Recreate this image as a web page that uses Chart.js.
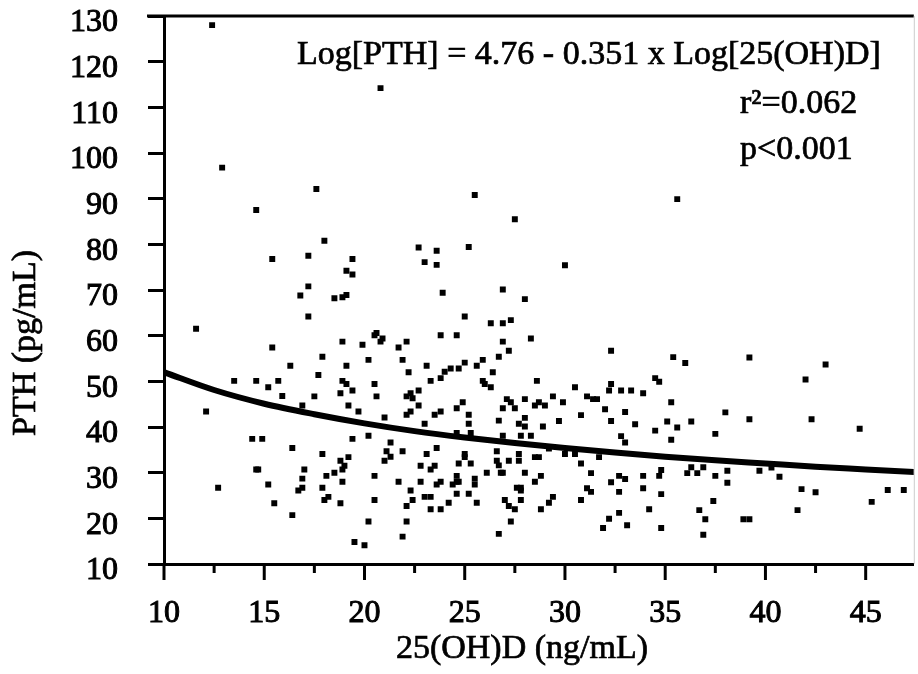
<!DOCTYPE html>
<html lang="en">
<head>
<meta charset="UTF-8">
<title>PTH vs 25(OH)D</title>
<script src="https://cdn.jsdelivr.net/npm/chart.js"></script>
<style>
  html, body { margin: 0; padding: 0; background: #fff; }
  #wrap { width: 918px; height: 674px; }
</style>
</head>
<body>
<div id="wrap"><canvas id="pthChart"></canvas></div>
<script>
// 25(OH)D (ng/mL) of each subject
const vitD = [
  12.4, 20.8, 12.9, 17.6, 14.6, 18.0, 15.4, 17.2, 19.4, 19.1,
  19.4, 17.2, 16.8, 18.5, 18.9, 19.1, 17.2, 22.7, 23.0, 23.6,
  23.6, 23.9, 11.6, 23.8, 24.6, 20.5, 20.6, 25.5, 35.6, 27.5,
  25.2, 30.0, 26.9, 28.0, 25.0, 26.3, 26.9, 27.3, 28.3,
  15.4, 13.5, 14.6, 15.7, 15.2, 15.9, 12.1, 14.4, 14.9, 14.6, 14.7, 15.2, 12.7, 15.5,
  20.8, 20.9, 18.9, 19.9, 21.7, 22.1, 17.9, 16.3, 19.1, 20.2,
  21.9, 17.7, 22.2, 18.9, 19.1, 19.4, 18.8, 20.5, 17.5, 20.6,
  22.1, 22.3, 22.4, 16.9, 19.2, 19.7, 21.0, 22.1, 22.3, 19.4,
  20.2, 16.4, 17.9, 19.2, 18.8, 21.3, 21.1, 21.3, 21.0, 21.9,
  17.0, 19.0, 18.9, 16.9, 18.1, 18.5, 18.9, 20.5, 16.7, 16.9,
  17.9, 18.0, 18.2, 18.8, 21.7, 22.3, 20.5, 22.1, 16.4, 20.2,
  22.1, 21.9, 19.5, 20.0, 22.4,
  26.9, 27.2, 26.7, 23.1, 25.0, 25.9, 25.6, 24.3, 24.0, 24.7,
  26.4, 23.3, 23.8, 25.9, 26.0, 26.3, 28.6, 22.7, 22.7, 24.9,
  24.6, 23.5, 23.8, 25.2, 25.2, 23.0, 27.1, 27.3, 27.5, 28.0,
  26.9, 28.5, 28.7, 26.7, 27.7, 28.0, 28.0, 28.9, 24.6, 25.3,
  26.9, 27.8, 28.3, 23.6, 23.1, 25.0, 25.0, 26.6, 26.6, 26.7,
  26.8, 26.9, 27.2, 27.7, 27.7, 28.5, 28.7, 22.8, 23.3, 23.5,
  24.7, 25.3, 26.1, 24.6, 24.6, 24.4, 24.7, 25.5, 25.5, 23.8,
  23.6, 22.8, 28.0, 28.8, 28.5, 27.6, 27.8, 27.8, 27.8, 23.0,
  23.3, 24.6, 25.2, 24.2, 25.6, 23.3, 23.8, 27.0, 27.2, 27.5,
  28.8, 27.3, 26.7,
  32.3, 35.4, 30.5, 29.4, 29.9, 31.1, 31.4, 31.6, 32.3, 32.2,
  32.8, 33.3, 33.9, 34.5, 34.7, 35.3, 29.0, 32.0, 33.0, 30.8,
  29.7, 32.3, 33.5, 34.5, 35.1, 32.8, 33.0, 35.3, 29.2, 30.0,
  30.5, 31.7, 30.8, 31.3, 32.7, 33.0, 32.3, 33.9, 34.8, 34.7,
  31.1, 31.3, 32.7, 33.9, 34.8, 29.4, 29.2, 30.8, 34.2, 32.7,
  32.2, 31.9, 33.1, 34.8,
  36.0, 39.2, 38.0, 39.2, 36.3, 35.6, 37.5, 36.3, 36.1, 36.6,
  36.9, 37.5, 38.1, 38.1, 39.7, 40.3, 40.7, 41.8, 37.4, 36.7,
  37.0, 38.9, 39.2, 41.6, 36.9,
  43.0, 42.0, 42.3, 44.7, 42.5, 45.3, 46.1, 46.9
];

// PTH (pg/mL), same order as vitD
const pth = [
  128.0, 114.2, 96.8, 92.1, 87.5, 80.8, 76.8, 77.5, 76.8, 74.2,
  73.4, 70.8, 68.8, 68.2, 68.4, 68.9, 64.2, 79.3, 76.1, 78.6,
  75.5, 69.4, 61.5, 60.1, 60.1, 60.1, 60.6, 90.8, 89.9, 85.5,
  79.4, 75.4, 70.1, 68.0, 64.2, 62.7, 62.7, 63.4, 59.4,
  57.4, 50.1, 50.1, 50.1, 48.7, 46.8, 43.4, 37.4, 37.4, 30.7, 30.7, 27.4, 26.7, 23.3,
  58.7, 59.4, 58.7, 58.0, 57.4, 58.7, 55.4, 53.4, 53.4, 54.7,
  54.7, 51.4, 52.0, 50.1, 49.4, 48.0, 47.4, 49.4, 46.7, 46.7,
  46.7, 47.4, 46.3, 44.7, 44.7, 43.4, 42.1, 42.7, 43.4, 37.4,
  38.1, 35.4, 34.1, 33.4, 32.6, 36.6, 34.7, 33.5, 32.6, 34.7,
  30.7, 31.5, 30.7, 28.7, 29.3, 30.0, 28.0, 29.3, 26.1, 26.7,
  26.7, 24.0, 24.7, 23.3, 28.0, 26.1, 24.0, 22.7, 20.7, 19.3,
  19.3, 16.0, 14.8, 14.1, 24.0,
  58.7, 56.7, 55.4, 53.4, 54.1, 54.7, 53.4, 52.8, 52.1, 52.8,
  52.0, 50.1, 50.7, 50.1, 49.4, 48.7, 50.1, 48.0, 44.7, 45.4,
  44.1, 42.7, 43.4, 42.7, 40.7, 40.7, 46.1, 45.4, 44.1, 46.1,
  44.1, 44.7, 45.4, 41.4, 40.7, 42.0, 40.1, 40.1, 38.7, 38.7,
  38.1, 38.1, 38.1, 35.4, 34.1, 34.1, 33.4, 34.7, 32.6, 31.6,
  30.0, 30.0, 32.6, 34.1, 32.6, 33.4, 33.4, 31.5, 30.7, 31.5,
  32.0, 32.0, 30.0, 29.3, 28.0, 27.4, 28.0, 28.7, 27.4, 28.0,
  27.4, 28.0, 30.0, 29.3, 28.0, 26.7, 26.7, 26.1, 24.0, 24.7,
  24.7, 25.4, 25.4, 23.4, 23.4, 22.0, 22.0, 24.0, 22.7, 22.0,
  22.0, 19.3, 16.6,
  56.7, 55.3, 48.7, 46.7, 45.4, 46.7, 46.1, 46.1, 49.4, 48.0,
  48.0, 48.0, 47.4, 50.7, 49.9, 45.4, 44.7, 43.9, 43.3, 42.6,
  41.3, 41.3, 40.6, 39.2, 41.2, 38.0, 36.6, 37.2, 35.3, 34.1,
  34.1, 33.4, 32.0, 29.9, 29.3, 28.6, 27.9, 29.3, 30.6, 29.3,
  26.6, 25.8, 25.8, 26.6, 25.3, 24.7, 23.4, 24.0, 22.0, 21.2,
  19.9, 17.9, 18.5, 17.9,
  54.0, 55.2, 43.2, 41.7, 41.2, 39.9, 38.5, 31.2, 29.9, 29.9,
  31.2, 29.3, 30.4, 27.8, 30.4, 31.1, 29.1, 26.4, 23.8, 21.8,
  19.8, 19.8, 19.8, 21.8, 16.4,
  53.7, 50.4, 41.7, 39.6, 25.7, 23.6, 26.2, 26.2
];

// the drawn regression curve
const fitX = [10, 12.5, 15, 17.5, 20, 22.5, 25, 27.5, 30, 32.5, 35, 37.5, 40, 42.5, 45, 47.5];
const fitY = [52.0, 48.1, 45.1, 42.8, 40.8, 39.1, 37.7, 36.5, 35.4, 34.4, 33.5, 32.7, 32.0, 31.3, 30.7, 30.1];

const equationText = 'Log[PTH] = 4.76 - 0.351 x Log[25(OH)D]';
const r2Text = 'r\u00b2=0.062';
const pText = 'p<0.001';
const xTitle = '25(OH)D (ng/mL)';
const yTitle = 'PTH (pg/mL)';

const FONT = '"Liberation Serif", "Times New Roman", serif';
Chart.defaults.font.family = FONT;
Chart.defaults.color = '#000';

// text a bit heavier, like the scanned figure
function heavyText(ctx, str, x, y) {
  ctx.fillText(str, x, y);
  ctx.strokeText(str, x, y);
}

// frame, x ticks (major + minor), axis titles and the fit text
const extras = {
  id: 'extras',
  afterDraw(chart) {
    const { ctx, chartArea: a, scales: { x } } = chart;
    ctx.save();
    ctx.strokeStyle = '#000';
    ctx.lineWidth = 3;
    ctx.beginPath();
    ctx.moveTo(a.left - 17, a.top);
    ctx.lineTo(a.right, a.top);
    ctx.stroke();

    ctx.strokeStyle = '#ccc';
    ctx.lineWidth = 1;
    ctx.beginPath();
    ctx.moveTo(a.right + 0.5, a.top);
    ctx.lineTo(a.right + 0.5, a.bottom);
    ctx.stroke();

    ctx.strokeStyle = '#000';
    ctx.lineWidth = 3;
    for (let v = 10; v <= x.max; v += 2.5) {
      const px = x.getPixelForValue(v);
      const major = v % 5 === 0;
      ctx.beginPath();
      ctx.moveTo(px, a.bottom - 1);
      ctx.lineTo(px, a.bottom + (major ? 16 : 9));
      ctx.stroke();
    }

    ctx.fillStyle = '#000';
    ctx.strokeStyle = '#000';
    ctx.lineWidth = 0.7;
    ctx.textBaseline = 'alphabetic';
    ctx.font = '34px ' + FONT;
    ctx.textAlign = 'center';
    heavyText(ctx, xTitle, 522, 658);

    ctx.save();
    ctx.translate(35, 343);
    ctx.rotate(-Math.PI / 2);
    heavyText(ctx, yTitle, 0, 0);
    ctx.restore();

    ctx.textAlign = 'left';
    heavyText(ctx, equationText, 297, 64);
    heavyText(ctx, r2Text, 740, 113);
    heavyText(ctx, pText, 740, 159);
    ctx.restore();
  }
};

new Chart(document.getElementById('pthChart'), {
  type: 'scatter',
  data: {
    datasets: [
      {
        label: 'Subjects',
        data: vitD.map((v, i) => ({ x: v, y: pth[i] })),
        pointStyle: 'rect',
        pointRadius: 4.2,
        pointBackgroundColor: '#000',
        pointBorderWidth: 0,
        order: 2
      },
      {
        label: 'Fit',
        type: 'line',
        data: fitX.map((v, i) => ({ x: v, y: fitY[i] })),
        borderColor: '#000',
        borderWidth: 6,
        pointRadius: 0,
        tension: 0.4,
        cubicInterpolationMode: 'monotone',
        order: 1
      }
    ]
  },
  options: {
    responsive: true,
    maintainAspectRatio: false,
    animation: false,
    layout: { padding: { left: 0, top: 16, right: 1, bottom: 0 } },
    plugins: { legend: { display: false }, tooltip: { enabled: false } },
    scales: {
      x: {
        type: 'linear',
        min: 10,
        max: 47.4,
        grid: { display: false },
        border: { display: true, color: '#000', width: 3 },
        ticks: {
          stepSize: 5, includeBounds: false, padding: 22,
          font: { size: 32 }, color: '#000',
          textStrokeColor: '#000', textStrokeWidth: 1
        },
        afterFit(s) { s.height = 110; s.paddingLeft = 0; s.paddingRight = 0; }
      },
      y: {
        min: 10,
        max: 130,
        grid: { drawOnChartArea: false, tickLength: 16, tickWidth: 3, tickColor: '#000' },
        border: { display: true, color: '#000', width: 3 },
        ticks: {
          stepSize: 10, padding: 30, labelOffset: 7,
          font: { size: 32 }, color: '#000',
          textStrokeColor: '#000', textStrokeWidth: 1
        },
        afterFit(s) { s.width = 164; s.paddingTop = 0; s.paddingBottom = 0; }
      }
    }
  },
  plugins: [extras]
});
</script>
</body>
</html>
